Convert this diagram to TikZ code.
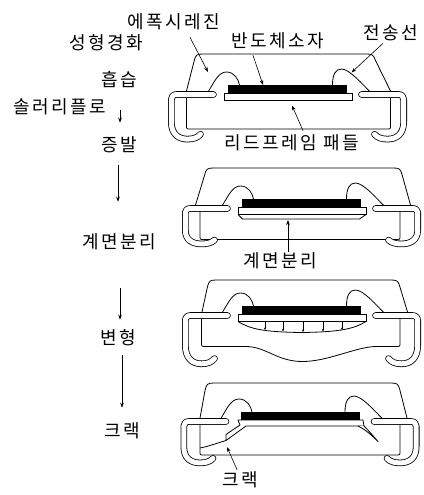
\documentclass[tikz,border=0pt]{standalone}
\usepackage{fontspec}
\setmainfont{Noto Sans CJK KR}[LetterSpace=14]
\usetikzlibrary{arrows.meta}

% J-leads: left half drawn, then mirrored; #1 stretches the bent part vertically
\newcommand\jleads[1]{%
  \begin{scope}[yscale=#1]
    \foreach \s in {1,-1}{%
      \begin{scope}[xscale=\s]
        \draw[leadline] (-74,0) -- (-111,0) .. controls (-114.2,0) and (-116.2,2) .. (-116.2,5.2)
          -- (-116.2,28) .. controls (-116.2,41) and (-109,46) .. (-100,46)
          .. controls (-94,46) and (-90,44.5) .. (-87,41);
      \end{scope}}
  \end{scope}}
% bonding wires from the leads to the chip
\newcommand\bondwires{%
  \draw[wire] (-79,-3.3) .. controls (-73,-13) and (-69,-22.5) .. (-61,-22.5)
    .. controls (-53,-22.5) and (-49,-15) .. (-48,-9.5);
  \draw[wire] (45,-9.5) .. controls (45,-20) and (48,-25.5) .. (54,-25.5)
    .. controls (62,-25.5) and (75,-10) .. (82,-3.3);}
% semiconductor chip (black) and lead-frame paddle
\newcommand\diechip{\fill (-59.5,-9.5) rectangle (59.5,-1.5);}
\newcommand\leadpad{\draw[paddle] (-63.5,-1.5) rectangle (64.5,6);}

\begin{document}
\begin{tikzpicture}[x=1pt,y=-1pt,
  lbl/.style={font=\fontsize{18}{20}\selectfont, inner sep=0pt},
  outline/.style={line width=0.8pt, line join=round},
  leadline/.style={line width=0.8pt, double=white, double distance=5pt, line cap=round, line join=round},
  wire/.style={line width=0.8pt},
  ptr/.style={line width=0.6pt, -{Stealth[length=5pt,width=3.6pt]}},
  tick/.style={line width=0.5pt, -{Stealth[length=2.5pt,width=2.2pt]}},
  paddle/.style={draw, fill=white, line width=0.8pt}]

\fill[white] (0,0) rectangle (423,495);
\useasboundingbox (0,0) rectangle (423,495);

% ---------- process steps (left column) ----------
\node[lbl] (cure)   at (106,43)  {성형경화};
\node[lbl] (moist)  at (119,80)  {흡습};
\node[lbl] (reflow) at (60,107)  {솔러리플로};
\node[lbl] (evap)   at (119,145) {증발};
\node[lbl] (delam)  at (119,242) {계면분리};
\node[lbl] (deform) at (118,338) {변형};
\node[lbl] (crack)  at (122,431) {크랙};

\draw[ptr] ([xshift=1pt,yshift=27pt]evap.north) -- ([xshift=1pt,yshift=14pt]evap.north);
\draw[ptr] ([xshift=-1pt,yshift=-12pt]evap.south) -- ([xshift=-1pt,yshift=32pt]delam.north);
\draw[ptr] ([xshift=1pt,yshift=-38pt]delam.south) -- ([xshift=2pt,yshift=10pt]deform.north);
\draw[ptr] ([xshift=4pt,yshift=-9pt]deform.south) -- ([xshift=0pt,yshift=15pt]crack.north);

% ---------- package 1: after molding ----------
\begin{scope}[shift={(287.5,94.5)}]
  \draw[outline] (-101,-3.5) -- (-93.5,-33) .. controls (-92,-39.5) and (-91,-40.5) .. (-85,-40.5)
    -- (79,-40.5) .. controls (85,-40.5) and (86,-39.5) .. (88,-34) -- (103,-3.5);
  \draw[outline] (-101,0) -- (-101,30.5) .. controls (-101,34.5) .. (-97,34.5)
    -- (99,34.5) .. controls (103,34.5) .. (103,30.5) -- (103,0);
  \jleads{0.97}
  \bondwires
  \diechip
  \leadpad
  \coordinate (resin1) at (-79.5,-22.5);
  \coordinate (die1) at (-24.5,-9.5);
  \coordinate (wire1) at (64,-22);
  \coordinate (pad1) at (4.5,11);
\end{scope}

\node[lbl] (epoxy)   at (174,22)  {에폭시레진};
\node[lbl] (chiplbl) at (278,41)  {반도체소자};
\node[lbl] (wirelbl) at (391,33)  {전송선};
\node[lbl] (padlbl)  at (292,143) {리드프레임 패들};
\draw[ptr] ([xshift=16pt,yshift=-7pt]epoxy.south) -- (resin1);
\draw[ptr] ([xshift=-25pt,yshift=-6pt]chiplbl.south) -- (die1);
\draw[ptr] ([xshift=-8pt,yshift=-2pt]wirelbl.south) -- (wire1);
\draw[ptr] ([xshift=11pt,yshift=4pt]padlbl.north) -- (pad1);

% ---------- package 2: delamination ----------
\begin{scope}[shift={(301.5,208.5)}]
  \draw[outline] (-106,-3.5) -- (-97,-33) .. controls (-95.5,-39.5) and (-94.5,-40.5) .. (-88,-40.5)
    -- (92,-40.5) .. controls (98,-40.5) and (99,-39.5) .. (100.5,-34) -- (109,-3.5);
  \draw[outline] (-101.5,0) -- (-101.5,27) .. controls (-101.5,31) .. (-97.5,31)
    -- (94.5,31) .. controls (98.5,31) .. (98.5,27) -- (98.5,0);
  \jleads{0.77}
  \bondwires
  \diechip
  \leadpad
  \draw[outline] (-63.5,6) -- (-59,10.5) -- (58,10.5) -- (64.5,6);
  \coordinate (gap2) at (-13.5,11.5);
\end{scope}
\node[lbl] (delam2) at (280,261) {계면분리};
\draw[ptr] ([xshift=8pt,yshift=1pt]delam2.north) -- (gap2);

% ---------- package 3: deformation ----------
\begin{scope}[shift={(301.5,315.5)}]
  \draw[outline] (-99.5,-3.5) -- (-94,-29) .. controls (-92.5,-34.5) and (-91.5,-35.5) .. (-85.5,-35.5)
    -- (89.5,-35.5) .. controls (95.5,-35.5) and (96.5,-34.5) .. (98,-30) -- (106,-3.5);
  \draw[outline] (-100,0) -- (-100,27) .. controls (-100,31) .. (-96,31) -- (-56,31)
    .. controls (-35,31) and (-25,46) .. (1,46) .. controls (27,46) and (55,31) .. (75,31)
    -- (94.5,31) .. controls (98.5,31) .. (98.5,27) -- (98.5,0);
  \jleads{1.05}
  \bondwires
  \diechip
  \draw[outline, fill=white] (-63.5,6) .. controls (-52,13) and (-40,16.5) .. (0,17)
    .. controls (40,16.5) and (53,13) .. (64.5,6);
  \leadpad
  \foreach \t/\d in {-36.5/14.5, -18.5/16, 1.5/16.5, 21.5/16, 40.5/14.5}
    \draw[tick] (\t,6) -- (\t,\d);
\end{scope}

% ---------- package 4: package crack ----------
\begin{scope}[shift={(300,421.5)}]
  \draw[outline] (-100,-3.5) -- (-95,-31) .. controls (-93.5,-37.5) and (-92.5,-38.5) .. (-86,-38.5)
    -- (91,-38.5) .. controls (97,-38.5) and (98,-37.5) .. (99.5,-33) -- (107,-3.5);
  \draw[outline] (-100,0) -- (-100,29.5) .. controls (-100,33.5) .. (-96,33.5)
    -- (96,33.5) .. controls (100,33.5) .. (100,29.5) -- (100,0);
  \jleads{0.9}
  \bondwires
  \diechip
  \draw[paddle, line join=round] (-62,-1.5) -- (63,-1.5) -- (64,4.5) -- (-54,4.5)
    -- (-74,19) -- (-74,13) -- (-60,3.5) -- cycle;
  \draw[outline] (-74,19) .. controls (-84,22) and (-92,25) .. (-100,26.5);
  \draw[outline, fill=white] (58,4.5) .. controls (66,8.5) and (72,14) .. (78,20)
    .. controls (72,13) and (68,8.5) .. (64,4.5);
  \coordinate (crk4) at (-73,25.5);
\end{scope}
\node[lbl] (crack4) at (240,480) {크랙};
\draw[ptr] ([xshift=-3pt,yshift=2pt]crack4.north) -- (crk4);

\end{tikzpicture}
\end{document}
